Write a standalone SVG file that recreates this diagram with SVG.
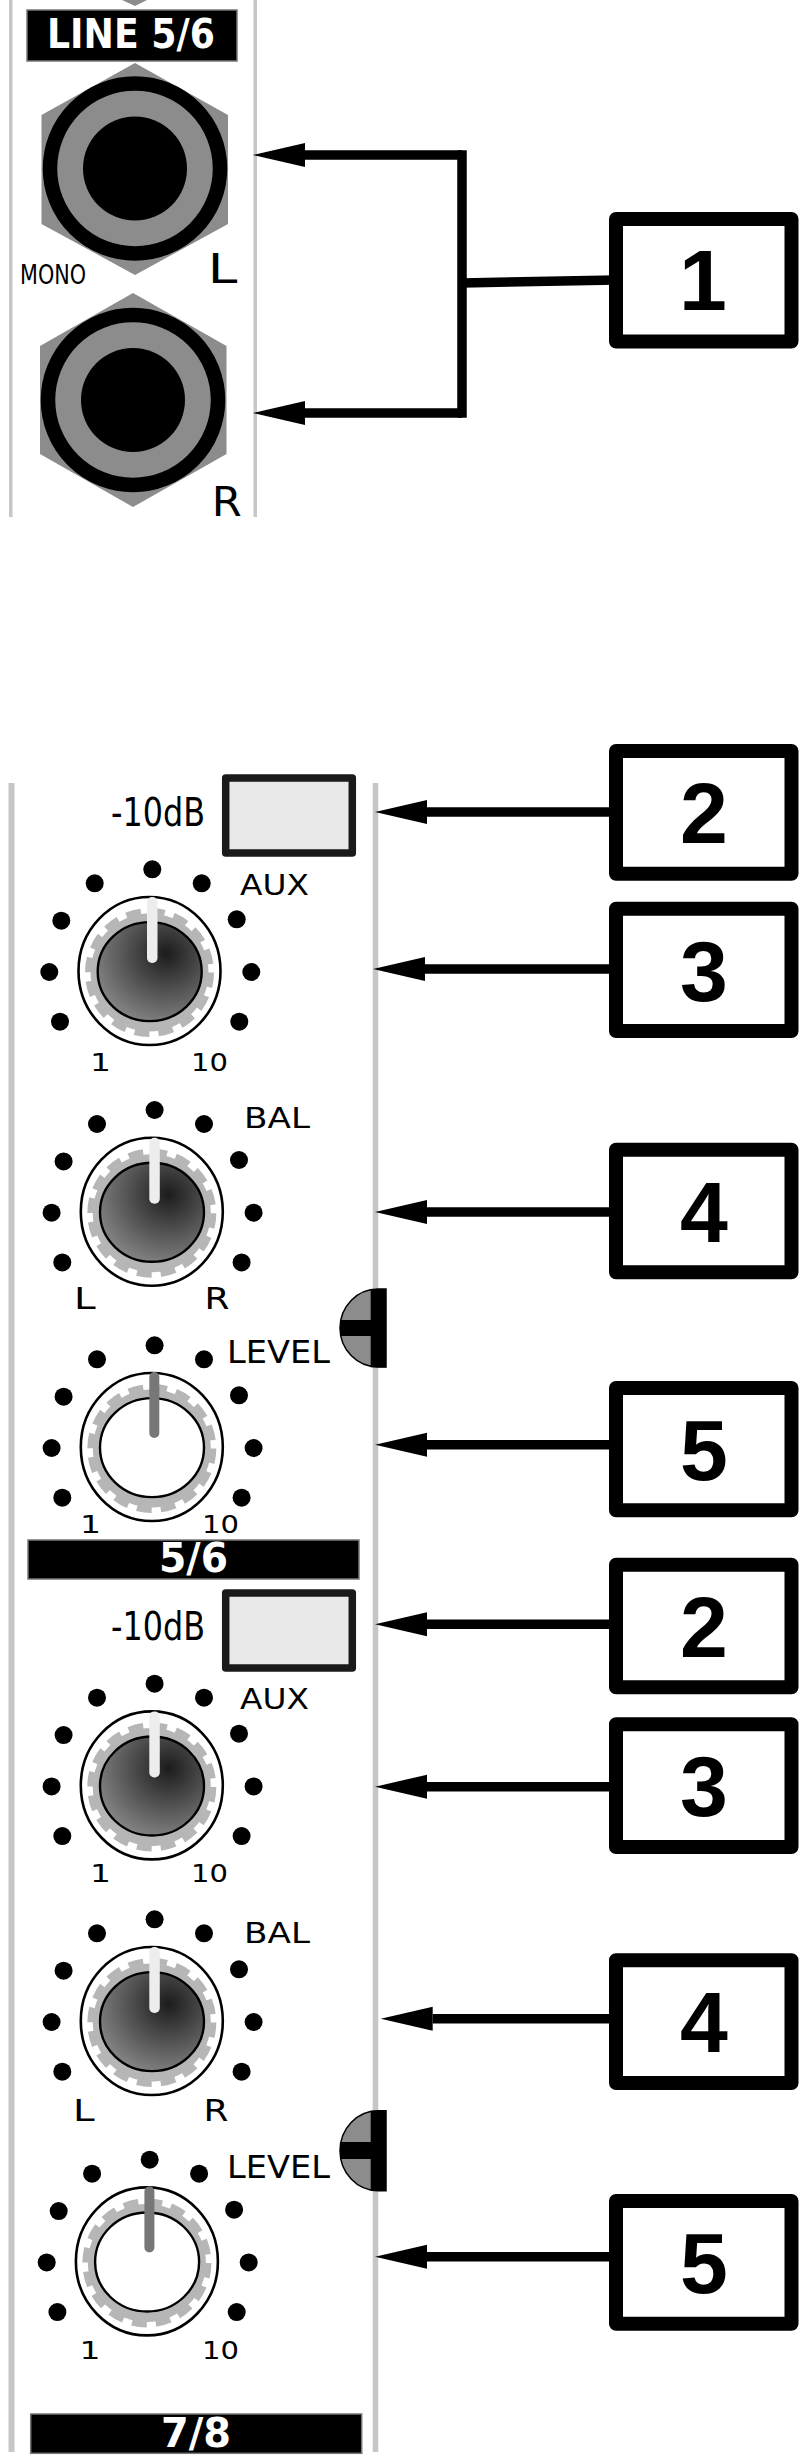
<svg xmlns="http://www.w3.org/2000/svg" xmlns:xlink="http://www.w3.org/1999/xlink" width="812" height="2462" viewBox="0 0 812 2462">
<style>
text{font-family:"DejaVu Sans",sans-serif;fill:#000}
.rail{fill:#c6c6c6}
.num{font-family:"Liberation Sans",Arial,sans-serif;font-weight:700;font-size:86px;text-anchor:middle}
.box{fill:#fff;stroke:#000;stroke-width:14;stroke-linejoin:round}
.bar{fill:#000;stroke:#777;stroke-width:1.5}
.barT{font-weight:700;fill:#fff}
.hex{fill:#8c8c8c}
.ring{fill:#8c8c8c;stroke:#000;stroke-width:14.5}
.sw{fill:#e9e9e9;stroke:#1a1a1a;stroke-width:7.5;stroke-linejoin:round}
.led{fill:#8c8c8c;stroke:#000;stroke-width:1.5}
.conn{fill:none;stroke:#000;stroke-width:9.5}
</style>
<defs>
<marker id="head" markerUnits="userSpaceOnUse" markerWidth="52" markerHeight="26" refX="0" refY="13" orient="auto" overflow="visible"><path d="M0 1L52 13L0 25Z" fill="#000"/></marker>
<radialGradient id="cap" cx="0.66" cy="0.32" r="0.85"><stop offset="0" stop-color="#1c1c1c"/><stop offset="1" stop-color="#949494"/></radialGradient>
<g id="knob-base">
<circle cx="2.3" cy="-102.2" r="9"/><circle cx="-55.3" cy="-88.2" r="9"/><circle cx="51.7" cy="-88.2" r="9"/><circle cx="-88.7" cy="-50.8" r="9"/><circle cx="86.7" cy="-52.2" r="9"/><circle cx="-100.7" cy="0.5" r="9"/><circle cx="101.3" cy="0.5" r="9"/><circle cx="-90" cy="50.2" r="9"/><circle cx="89.3" cy="50.2" r="9"/>
<ellipse cx="-0.5" cy="-0.5" rx="71" ry="74" fill="#fff" stroke="#000" stroke-width="2.6"/>
<circle cx="-0.5" cy="1" r="59" fill="#b6b6b6"/>
<circle cx="-0.5" cy="1" r="61.5" fill="none" stroke="#b6b6b6" stroke-width="6" stroke-dasharray="15 9.15"/>
</g>
<g id="knob-dark"><use href="#knob-base"/><ellipse cx="-0.3" cy="0.1" rx="52" ry="49.5" fill="url(#cap)" stroke="#000" stroke-width="2.4"/><rect x="-3" y="-74.5" width="10.5" height="66" rx="5" fill="#ededed"/></g>
<g id="knob-light"><use href="#knob-base"/><ellipse cx="-0.3" cy="0.1" rx="52" ry="49.5" fill="#fff" stroke="#000" stroke-width="2.4"/><rect x="-3" y="-75.5" width="10" height="66" rx="5" fill="#777"/></g>
</defs>
<rect width="812" height="2462" fill="#fff"/>

<g id="panel-top">
<rect class="rail" x="9" y="0" width="3.5" height="517"/><rect class="rail" x="253.5" y="0" width="3.5" height="517"/>
<polygon class="hex" points="122,0 147,0 135,6"/>
</g>
<g id="panel-bottom">
<rect class="rail" x="8.5" y="783" width="6" height="1669"/><rect class="rail" x="372.7" y="783" width="5.6" height="1669"/>
</g>

<g id="label-line56"><rect class="bar" x="27" y="10" width="210" height="51"/><text class="barT" x="47" y="48" font-size="41" textLength="168" lengthAdjust="spacingAndGlyphs">LINE 5/6</text></g>
<g id="jack-l">
<polygon class="hex" points="135,63 228,115 228,224 135,275 41.5,224 41.5,115"/>
<circle class="ring" cx="135" cy="168.5" r="85"/><circle cx="135" cy="168.5" r="52"/>
<text x="20" y="284" font-size="27" textLength="66" lengthAdjust="spacingAndGlyphs">MONO</text>
<text x="207.8" y="283" font-size="40" textLength="29.6" lengthAdjust="spacingAndGlyphs">L</text>
</g>
<g id="jack-r">
<polygon class="hex" points="133,293 226.5,346 226.5,454 133,507 40,454 40,346"/>
<circle class="ring" cx="133" cy="400" r="85"/><circle cx="133" cy="400" r="52"/>
<text x="211.8" y="516" font-size="40" textLength="30" lengthAdjust="spacingAndGlyphs">R</text>
</g>

<g id="switch-a"><rect class="sw" x="225.7" y="778" width="126.6" height="75"/><text x="111" y="826" font-size="38.5" textLength="94" lengthAdjust="spacingAndGlyphs">-10dB</text></g>
<g id="knob-aux-a"><use href="#knob-dark" transform="translate(150,971.5)"/>
<text x="240" y="895" font-size="27.5" textLength="69" lengthAdjust="spacingAndGlyphs">AUX</text>
<text x="90" y="1070.7" font-size="24.7" textLength="21" lengthAdjust="spacingAndGlyphs">1</text>
<text x="191" y="1070.7" font-size="24.7" textLength="37" lengthAdjust="spacingAndGlyphs">10</text></g>
<g id="knob-bal-a"><use href="#knob-dark" transform="translate(152.3,1212.2)"/>
<text x="244" y="1127.7" font-size="29" textLength="66" lengthAdjust="spacingAndGlyphs">BAL</text>
<text x="74" y="1309" font-size="30" textLength="21.7" lengthAdjust="spacingAndGlyphs">L</text>
<text x="204.5" y="1309" font-size="30" textLength="25" lengthAdjust="spacingAndGlyphs">R</text></g>
<g id="led-a"><path class="led" d="M386 1289H378A38 39 0 0 0 378 1367H386Z"/><rect x="370.7" y="1289" width="15.3" height="78.3"/><rect x="340" y="1320" width="46" height="16"/></g>
<g id="knob-level-a"><use href="#knob-light" transform="translate(152.3,1447.5)"/>
<text x="227" y="1363" font-size="31.5" textLength="103" lengthAdjust="spacingAndGlyphs">LEVEL</text>
<text x="80" y="1533" font-size="24.7" textLength="21" lengthAdjust="spacingAndGlyphs">1</text>
<text x="202" y="1533" font-size="24.7" textLength="37" lengthAdjust="spacingAndGlyphs">10</text></g>
<g id="label-56"><rect class="bar" x="28" y="1540" width="331" height="39"/><text class="barT" x="159" y="1571.7" font-size="40" textLength="69" lengthAdjust="spacingAndGlyphs">5/6</text></g>

<g id="switch-b"><rect class="sw" x="225.7" y="1593" width="126.6" height="75"/><text x="111" y="1640" font-size="38.5" textLength="94" lengthAdjust="spacingAndGlyphs">-10dB</text></g>
<g id="knob-aux-b"><use href="#knob-dark" transform="translate(152.3,1785.9)"/>
<text x="240" y="1709.3" font-size="27.5" textLength="69" lengthAdjust="spacingAndGlyphs">AUX</text>
<text x="90" y="1881.7" font-size="24.7" textLength="21" lengthAdjust="spacingAndGlyphs">1</text>
<text x="191" y="1881.7" font-size="24.7" textLength="37" lengthAdjust="spacingAndGlyphs">10</text></g>
<g id="knob-bal-b"><use href="#knob-dark" transform="translate(152.3,2021.5)"/>
<text x="244" y="1942.7" font-size="29" textLength="66" lengthAdjust="spacingAndGlyphs">BAL</text>
<text x="73" y="2120.7" font-size="30" textLength="21.7" lengthAdjust="spacingAndGlyphs">L</text>
<text x="203.5" y="2120.7" font-size="30" textLength="25" lengthAdjust="spacingAndGlyphs">R</text></g>
<g id="led-b"><path class="led" d="M386 2110.7H378A38 40 0 0 0 378 2190.7H386Z"/><rect x="370.7" y="2110.7" width="15.3" height="80"/><rect x="340" y="2142" width="46" height="17"/></g>
<g id="knob-level-b"><use href="#knob-light" transform="translate(147.4,2261.9)"/>
<text x="227" y="2178" font-size="31.5" textLength="103" lengthAdjust="spacingAndGlyphs">LEVEL</text>
<text x="79.5" y="2359" font-size="24.7" textLength="21" lengthAdjust="spacingAndGlyphs">1</text>
<text x="202" y="2359" font-size="24.7" textLength="37" lengthAdjust="spacingAndGlyphs">10</text></g>
<g id="label-78"><rect class="bar" x="30.7" y="2414" width="331" height="39.3"/><text class="barT" x="161" y="2446.7" font-size="40" textLength="70" lengthAdjust="spacingAndGlyphs">7/8</text></g>

<g id="connectors">
<path class="conn" d="M462 155H305" marker-end="url(#head)"/>
<path class="conn" d="M462 413H305" marker-end="url(#head)"/>
<path class="conn" d="M462 150.3V417.7"/>
<path class="conn" d="M462 283L616 280"/>
<path class="conn" d="M616 812H427" marker-end="url(#head)"/>
<path class="conn" d="M616 969H425" marker-end="url(#head)"/>
<path class="conn" d="M616 1212H427" marker-end="url(#head)"/>
<path class="conn" d="M616 1444.7H427" marker-end="url(#head)"/>
<path class="conn" d="M616 1624.3H427" marker-end="url(#head)"/>
<path class="conn" d="M616 1786.7H427" marker-end="url(#head)"/>
<path class="conn" d="M616 2018.7H432.7" marker-end="url(#head)"/>
<path class="conn" d="M616 2256.7H427" marker-end="url(#head)"/>
</g>

<g id="node-1"><rect class="box" x="616" y="219" width="175.5" height="122.5"/><text class="num" x="703" y="310">1</text></g>
<g id="node-2a"><rect class="box" x="616" y="751" width="175.5" height="122.7"/><text class="num" x="704" y="843">2</text></g>
<g id="node-3a"><rect class="box" x="616" y="908.7" width="175.5" height="122.3"/><text class="num" x="704" y="1001">3</text></g>
<g id="node-4a"><rect class="box" x="616" y="1149.7" width="175.5" height="122.6"/><text class="num" x="704" y="1241.5">4</text></g>
<g id="node-5a"><rect class="box" x="616" y="1388" width="175.5" height="122.3"/><text class="num" x="704" y="1480">5</text></g>
<g id="node-2b"><rect class="box" x="616" y="1564.7" width="175.5" height="122.6"/><text class="num" x="704" y="1656.7">2</text></g>
<g id="node-3b"><rect class="box" x="616" y="1724.3" width="175.5" height="122.7"/><text class="num" x="704" y="1816">3</text></g>
<g id="node-4b"><rect class="box" x="616" y="1960.3" width="175.5" height="122.7"/><text class="num" x="704" y="2052">4</text></g>
<g id="node-5b"><rect class="box" x="616" y="2201" width="175.5" height="122.7"/><text class="num" x="704" y="2293">5</text></g>
</svg>
